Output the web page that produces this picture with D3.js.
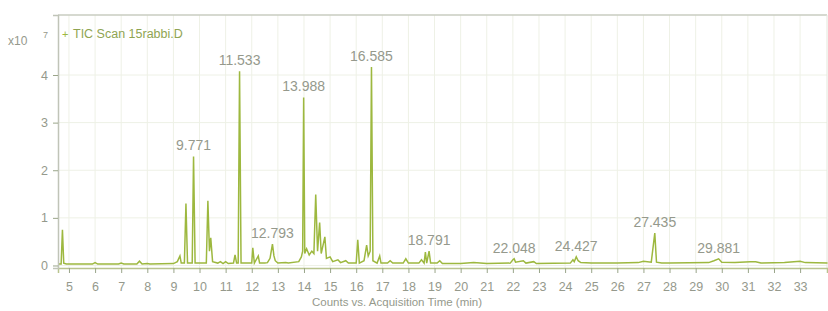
<!DOCTYPE html>
<html><head><meta charset="utf-8">
<script src="https://cdn.jsdelivr.net/npm/d3@7"></script>
<style>body{margin:0;background:#fff}svg{display:block}text{font-family:"Liberation Sans",Arial,sans-serif}</style>
</head><body><svg id="c" width="828" height="311"></svg>
<script>
// Retention time (min) and counts (x10^7)
const times = [4.58,4.70,4.75,4.80,4.90,5.90,6.00,6.10,6.90,7.00,7.10,7.60,7.70,7.80,8.00,8.10,
9.00,9.15,9.25,9.30,9.42,9.48,9.54,9.72,9.771,9.83,10.26,10.32,10.38,10.43,10.50,10.70,10.80,10.90,11.00,11.10,
11.30,11.36,11.42,11.48,11.533,11.59,12.00,12.04,12.10,12.25,12.30,12.50,12.60,12.70,12.793,12.85,12.90,13.00,
13.30,13.40,13.80,13.90,13.95,13.988,14.03,14.10,14.20,14.30,14.38,14.45,14.52,14.60,14.66,14.80,14.86,15.00,15.10,15.30,15.40,15.60,15.70,
16.00,16.06,16.12,16.30,16.40,16.46,16.535,16.585,16.64,16.80,16.90,16.95,17.20,17.30,17.40,17.80,17.90,18.00,
18.40,18.50,18.60,18.65,18.70,18.791,18.85,19.10,19.20,19.30,20.00,20.50,21.00,
21.90,22.00,22.048,22.10,22.40,22.50,22.80,22.90,24.20,24.30,24.35,24.427,24.50,24.60,
25.00,26.00,26.80,27.00,27.30,27.435,27.50,27.70,28.00,29.50,29.70,29.881,30.00,30.50,31.10,31.30,31.50,32.40,33.00,33.20,34.05];
const counts = [0.03,0.03,0.75,0.05,0.03,0.03,0.06,0.03,0.03,0.05,0.03,0.03,0.09,0.03,0.04,0.03,
0.04,0.08,0.20,0.05,0.05,1.30,0.05,0.05,2.29,0.05,0.05,1.36,0.30,0.58,0.08,0.05,0.08,0.04,0.08,0.04,
0.05,0.22,0.05,0.05,4.08,0.05,0.05,0.37,0.05,0.20,0.05,0.05,0.06,0.15,0.45,0.20,0.10,0.05,
0.06,0.05,0.08,0.18,0.30,3.53,0.25,0.35,0.22,0.30,0.25,1.49,0.30,0.90,0.25,0.60,0.15,0.18,0.08,0.12,0.06,0.10,0.05,
0.05,0.54,0.05,0.10,0.43,0.20,0.30,4.17,0.10,0.05,0.20,0.05,0.05,0.10,0.05,0.05,0.14,0.05,
0.05,0.12,0.05,0.28,0.05,0.30,0.05,0.05,0.10,0.04,0.04,0.06,0.04,
0.05,0.12,0.14,0.07,0.10,0.05,0.08,0.04,0.05,0.12,0.08,0.18,0.10,0.06,
0.05,0.05,0.06,0.09,0.07,0.68,0.07,0.05,0.05,0.06,0.10,0.14,0.07,0.06,0.08,0.08,0.05,0.06,0.09,0.06,0.05];
const peakLabels = ["9.771","11.533","12.793","13.988","16.585","18.791","22.048","24.427","27.435","29.881"];
const xTicks = [5,6,7,8,9,10,11,12,13,14,15,16,17,18,19,20,21,22,23,24,25,26,27,28,29,30,31,32,33];
const yTicks = [0,1,2,3,4];

const svg = d3.select("#c");
const L=58, R=827, T=15, B=268;
const x = d3.scaleLinear().domain([4.58,34.03]).range([L,R]);
const y = d3.scaleLinear().domain([-0.053,5.26]).range([B,T]);
const green="#9db83f";
const txt="#95998c";

// grid
svg.append("g").selectAll("line").data(xTicks).join("line")
  .attr("x1",d=>x(d)).attr("x2",d=>x(d)).attr("y1",T).attr("y2",B)
  .attr("stroke","#eef1e6").attr("stroke-width",1);
svg.append("g").selectAll("line").data(yTicks).join("line")
  .attr("x1",L).attr("x2",R).attr("y1",d=>y(d)).attr("y2",d=>y(d))
  .attr("stroke","#eef1e6").attr("stroke-width",1);

// frame
svg.append("line").attr("x1",L).attr("x2",R).attr("y1",T).attr("y2",T).attr("stroke","#c8ccc0").attr("stroke-width",1.5);
svg.append("line").attr("x1",R).attr("x2",R).attr("y1",T).attr("y2",B).attr("stroke","#e4e6dc");

// trace
const pts = times.map((t,i)=>[t,counts[i]]);
svg.append("path").datum(pts)
  .attr("d",d3.line().x(d=>x(d[0])).y(d=>y(d[1])))
  .attr("fill","none").attr("stroke",green).attr("stroke-width",1.5);

// axes
const ax = svg.append("g").attr("transform",`translate(0,${B})`)
  .call(d3.axisBottom(x).tickValues(xTicks).tickFormat(d3.format("d")).tickSize(5).tickPadding(9));
ax.select(".domain").attr("stroke","#b9c48e").attr("stroke-width",1.5);
ax.selectAll(".tick line").attr("stroke","#9aa58a");
ax.selectAll("text").attr("fill",txt).attr("font-size",12.5);

const ay = svg.append("g").attr("transform",`translate(${L},0)`)
  .call(d3.axisLeft(y).tickValues(yTicks).tickFormat(d3.format("d")).tickSize(5).tickPadding(5));
ay.select(".domain").attr("stroke","#c0c4b8").attr("stroke-width",1.5);
ay.selectAll(".tick line").attr("stroke","#9aa58a");
ay.selectAll("text").attr("fill",txt).attr("font-size",12.5);

// peak labels
const lab = peakLabels.map(s=>{const t=+s; const i=times.indexOf(t); return {s,t,v:counts[i]};});
svg.append("g").selectAll("text").data(lab).join("text")
  .attr("x",d=>x(d.t)).attr("y",d=>y(d.v)-6).attr("text-anchor","middle")
  .attr("fill",txt).attr("font-size",14).text(d=>d.s);

// exponent & legend
svg.append("text").attr("x",8).attr("y",45).attr("fill",txt).attr("font-size",12).text("x10");
svg.append("text").attr("x",43).attr("y",38).attr("fill",txt).attr("font-size",9).text("7");
svg.append("text").attr("x",62).attr("y",38).attr("fill",green).attr("font-size",11).text("+");
svg.append("text").attr("x",73).attr("y",38).attr("fill","#8fa452").attr("font-size",12.5).text("TIC Scan 15rabbi.D");

// x title
svg.append("text").attr("x",397).attr("y",306).attr("text-anchor","middle")
  .attr("fill",txt).attr("font-size",11.5).text("Counts vs. Acquisition Time (min)");
</script></body></html>
